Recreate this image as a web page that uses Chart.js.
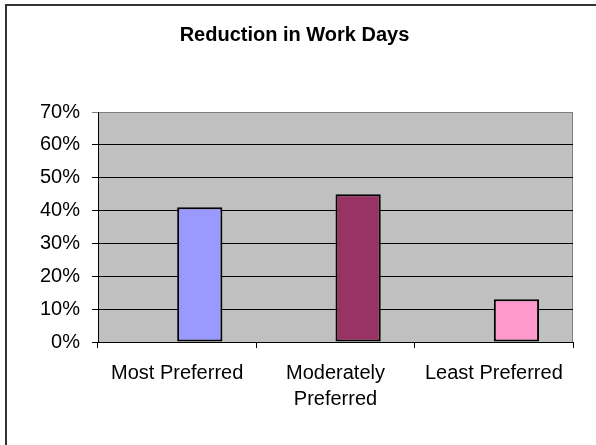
<!DOCTYPE html>
<html lang="en">
<head>
  <meta charset="UTF-8" />
  <title>Reduction in Work Days</title>
  <script src="https://cdn.jsdelivr.net/npm/chart.js"></script>
  <style>
    body { margin: 0; background: #fff; overflow: hidden; }
    .frame { position: absolute; left: 5px; top: 4px; width: 700px; height: 600px; border: 2px solid #333; }
    #chart { position: absolute; left: 0; top: 0; }
  </style>
</head>
<body>
  <div class="frame"></div>
  <canvas id="chart" width="596" height="445"></canvas>

  <script>
    const categories = ['Most Preferred', ['Moderately', 'Preferred'], 'Least Preferred'];
    const spacerValues = [null, null, null];
    const reductionValues = [41, 45, 13];
    const barColors = ['#9999FF', '#993366', '#FF99CC'];
    const yTicksMax = 70;

    const plotBackground = {
      id: 'plotBackground',
      beforeDraw(chart) {
        const a = chart.chartArea;
        const c = chart.ctx;
        c.save();
        c.fillStyle = '#C0C0C0';
        c.fillRect(a.left, a.top, a.right - a.left, a.bottom - a.top);
        c.strokeStyle = '#808080';
        c.lineWidth = 1;
        c.strokeRect(a.left + 0.5, a.top + 0.5, a.right - a.left - 1, a.bottom - a.top);
        c.restore();
      }
    };

    const font = { family: '"Liberation Sans", Arial, sans-serif', size: 20 };

    new Chart(document.getElementById('chart'), {
      type: 'bar',
      data: {
        labels: categories,
        datasets: [
          { label: '', data: spacerValues },
          {
            label: 'Reduction in Work Days',
            data: reductionValues,
            backgroundColor: barColors,
            borderColor: '#000',
            borderWidth: 2,
            borderSkipped: false
          }
        ]
      },
      options: {
        responsive: false,
        animation: false,
        categoryPercentage: 2 / 3.5,
        barPercentage: 1,
        layout: { padding: { left: 16, right: 23, top: 0, bottom: 0 } },
        plugins: {
          legend: { display: false },
          tooltip: { enabled: false },
          title: {
            display: true,
            text: 'Reduction in Work Days',
            color: '#000',
            font: { family: font.family, size: 20, weight: 'bold' },
            padding: { top: 23, bottom: 65 }
          }
        },
        scales: {
          x: {
            grid: { drawOnChartArea: false, drawTicks: true, tickLength: 6, color: '#000' },
            border: { color: '#000' },
            ticks: {
              color: '#000',
              font: { family: font.family, size: 20, lineHeight: 1.3 },
              padding: 12,
              maxRotation: 0,
              autoSkip: false
            },
            afterFit(scale) { scale.height = 103; }
          },
          y: {
            min: 0,
            max: yTicksMax,
            grid: {
              color: ctx => (ctx.tick && ctx.tick.value === yTicksMax) ? '#808080' : '#000',
              tickLength: 6,
              drawTicks: true
            },
            border: { color: '#000' },
            ticks: {
              stepSize: 10,
              color: '#000',
              font: font,
              padding: 12,
              callback: v => v + '%'
            },
            afterFit(scale) { scale.width = 82; }
          }
        }
      },
      plugins: [plotBackground]
    });
  </script>
</body>
</html>
